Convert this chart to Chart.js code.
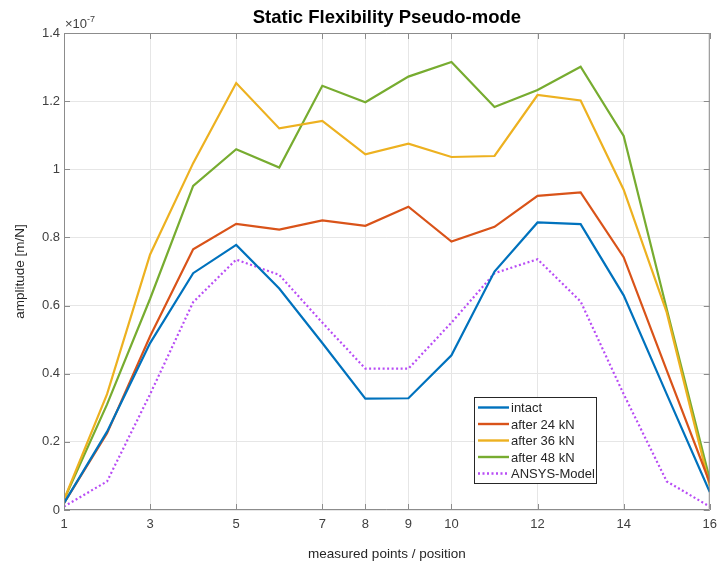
<!DOCTYPE html>
<html>
<head>
<meta charset="utf-8">
<script src="https://cdn.jsdelivr.net/npm/chart.js@4"></script>
<style>
  html, body { margin: 0; padding: 0; background: #fff; }
  #wrap { width: 724px; height: 562px; }
</style>
</head>
<body>
<div id="wrap"><canvas id="flexChart" width="724" height="562"></canvas></div>
<script>
// measured positions and amplitudes (x 1e-7 m/N)
const positions = [1, 2, 3, 4, 5, 6, 7, 8, 9, 10, 11, 12, 13, 14, 15, 16];
const xTickValues = [1, 3, 5, 7, 8, 9, 10, 12, 14, 16];
const intact = [0.02, 0.23, 0.49, 0.695, 0.778, 0.65, 0.49, 0.327, 0.328, 0.454, 0.70, 0.844, 0.839, 0.63, 0.34, 0.053];
const after24 = [0.02, 0.225, 0.51, 0.765, 0.84, 0.823, 0.85, 0.834, 0.89, 0.788, 0.831, 0.922, 0.932, 0.742, 0.41, 0.08];
const after36 = [0.03, 0.34, 0.75, 1.018, 1.253, 1.12, 1.142, 1.044, 1.075, 1.036, 1.039, 1.218, 1.202, 0.94, 0.58, 0.07];
const after48 = [0.03, 0.31, 0.62, 0.951, 1.059, 1.005, 1.245, 1.197, 1.272, 1.315, 1.183, 1.233, 1.301, 1.098, 0.59, 0.09];
const ansys = [0.01, 0.084, 0.34, 0.61, 0.735, 0.69, 0.55, 0.415, 0.415, 0.55, 0.695, 0.736, 0.612, 0.34, 0.084, 0.01];

const seriesNames = ['intact', 'after 24 kN', 'after 36 kN', 'after 48 kN', 'ANSYS-Model'];
const seriesColors = ['#0072bd', '#d95319', '#edb120', '#77ac30', '#b84cf5'];
const seriesValues = [intact, after24, after36, after48, ansys];

const fontFamily = '"Liberation Sans", Arial, sans-serif';

const toPoints = vals => vals.map((v, i) => ({ x: positions[i], y: v }));

const datasets = seriesValues.map((vals, i) => ({
  label: seriesNames[i],
  data: toPoints(vals),
  borderColor: seriesColors[i],
  backgroundColor: seriesColors[i],
  borderWidth: 2.2,
  borderDash: i === 4 ? [2, 2.5] : [],
  pointRadius: 0,
  tension: 0,
  fill: false
}));

// frame, inward ticks, title, exponent and legend like the MATLAB figure
const matlabDecor = {
  id: 'matlabDecor',
  afterDraw(chart) {
    const ctx = chart.ctx;
    const a = chart.chartArea;
    const xs = chart.scales.x, ys = chart.scales.y;
    ctx.save();
    ctx.strokeStyle = '#8c8c8c';
    ctx.lineWidth = 1;
    ctx.beginPath();
    ctx.rect(a.left + 0.5, a.top + 0.5, a.right - a.left - 1, a.bottom - a.top - 1);
    ctx.stroke();
    ctx.beginPath();
    xTickValues.forEach(v => {
      const px = Math.round(xs.getPixelForValue(v)) + 0.5;
      ctx.moveTo(px, a.bottom); ctx.lineTo(px, a.bottom - 6);
      ctx.moveTo(px, a.top); ctx.lineTo(px, a.top + 6);
    });
    ys.ticks.forEach(t => {
      const py = Math.round(ys.getPixelForValue(t.value)) + 0.5;
      ctx.moveTo(a.left, py); ctx.lineTo(a.left + 6, py);
      ctx.moveTo(a.right, py); ctx.lineTo(a.right - 6, py);
    });
    ctx.stroke();

    // title
    ctx.fillStyle = '#000';
    ctx.font = 'bold 18.5px ' + fontFamily;
    ctx.textAlign = 'center';
    ctx.textBaseline = 'middle';
    ctx.fillText('Static Flexibility Pseudo-mode', (a.left + a.right) / 2, 18);

    // exponent label
    ctx.fillStyle = '#404040';
    ctx.textAlign = 'left';
    ctx.textBaseline = 'alphabetic';
    ctx.font = '13px ' + fontFamily;
    ctx.fillText('\u00d710', a.left + 1, a.top - 5);
    const w = ctx.measureText('\u00d710').width;
    ctx.font = '9px ' + fontFamily;
    ctx.fillText('-7', a.left + 1 + w, a.top - 11);

    // legend box
    const lx = 474, ly = 397, lw = 122, lh = 86, rowH = 16.5;
    ctx.fillStyle = '#fff';
    ctx.fillRect(lx, ly, lw, lh);
    ctx.strokeStyle = '#262626';
    ctx.lineWidth = 1;
    ctx.strokeRect(lx + 0.5, ly + 0.5, lw, lh);
    ctx.font = '13px ' + fontFamily;
    ctx.textBaseline = 'middle';
    chart.data.datasets.forEach((ds, i) => {
      const y = ly + 10.5 + i * rowH;
      ctx.strokeStyle = ds.borderColor;
      ctx.lineWidth = 2.4;
      ctx.setLineDash(ds.borderDash || []);
      ctx.beginPath();
      ctx.moveTo(lx + 4, y);
      ctx.lineTo(lx + 35, y);
      ctx.stroke();
      ctx.setLineDash([]);
      ctx.fillStyle = '#262626';
      ctx.fillText(ds.label, lx + 37, y + 1);
    });
    ctx.restore();
  }
};

const fmtY = v => {
  const r = Math.round(v * 10) / 10;
  return r === 0 ? '0' : (Number.isInteger(r) ? String(r) : r.toFixed(1));
};

new Chart(document.getElementById('flexChart').getContext('2d'), {
  type: 'line',
  data: { datasets: datasets },
  options: {
    responsive: false,
    animation: false,
    layout: { padding: { top: 33, right: 7, left: 0, bottom: 0 } },
    plugins: {
      legend: { display: false },
      title: { display: false },
      tooltip: { enabled: false }
    },
    scales: {
      x: {
        type: 'linear',
        min: 1,
        max: 16,
        afterBuildTicks: scale => { scale.ticks = xTickValues.map(v => ({ value: v })); },
        afterFit: scale => { scale.height = 52; },
        ticks: {
          autoSkip: false,
          maxRotation: 0,
          padding: 7,
          color: '#404040',
          font: { family: fontFamily, size: 13 },
          callback: v => String(v)
        },
        grid: { color: '#e6e6e6', drawTicks: false },
        border: { display: false },
        title: {
          display: true,
          text: 'measured points / position',
          color: '#262626',
          font: { family: fontFamily, size: 13.5 },
          padding: { top: 11, bottom: 0 }
        }
      },
      y: {
        min: 0,
        max: 1.4,
        afterFit: scale => { scale.width = 64; },
        ticks: {
          stepSize: 0.2,
          padding: 4,
          color: '#404040',
          font: { family: fontFamily, size: 13 },
          callback: v => fmtY(v)
        },
        grid: { color: '#e6e6e6', drawTicks: false },
        border: { display: false },
        title: {
          display: true,
          text: 'amplitude [m/N]',
          color: '#262626',
          font: { family: fontFamily, size: 13.5 },
          padding: { top: 12, bottom: 4 }
        }
      }
    }
  },
  plugins: [matlabDecor]
});
</script>
</body>
</html>
